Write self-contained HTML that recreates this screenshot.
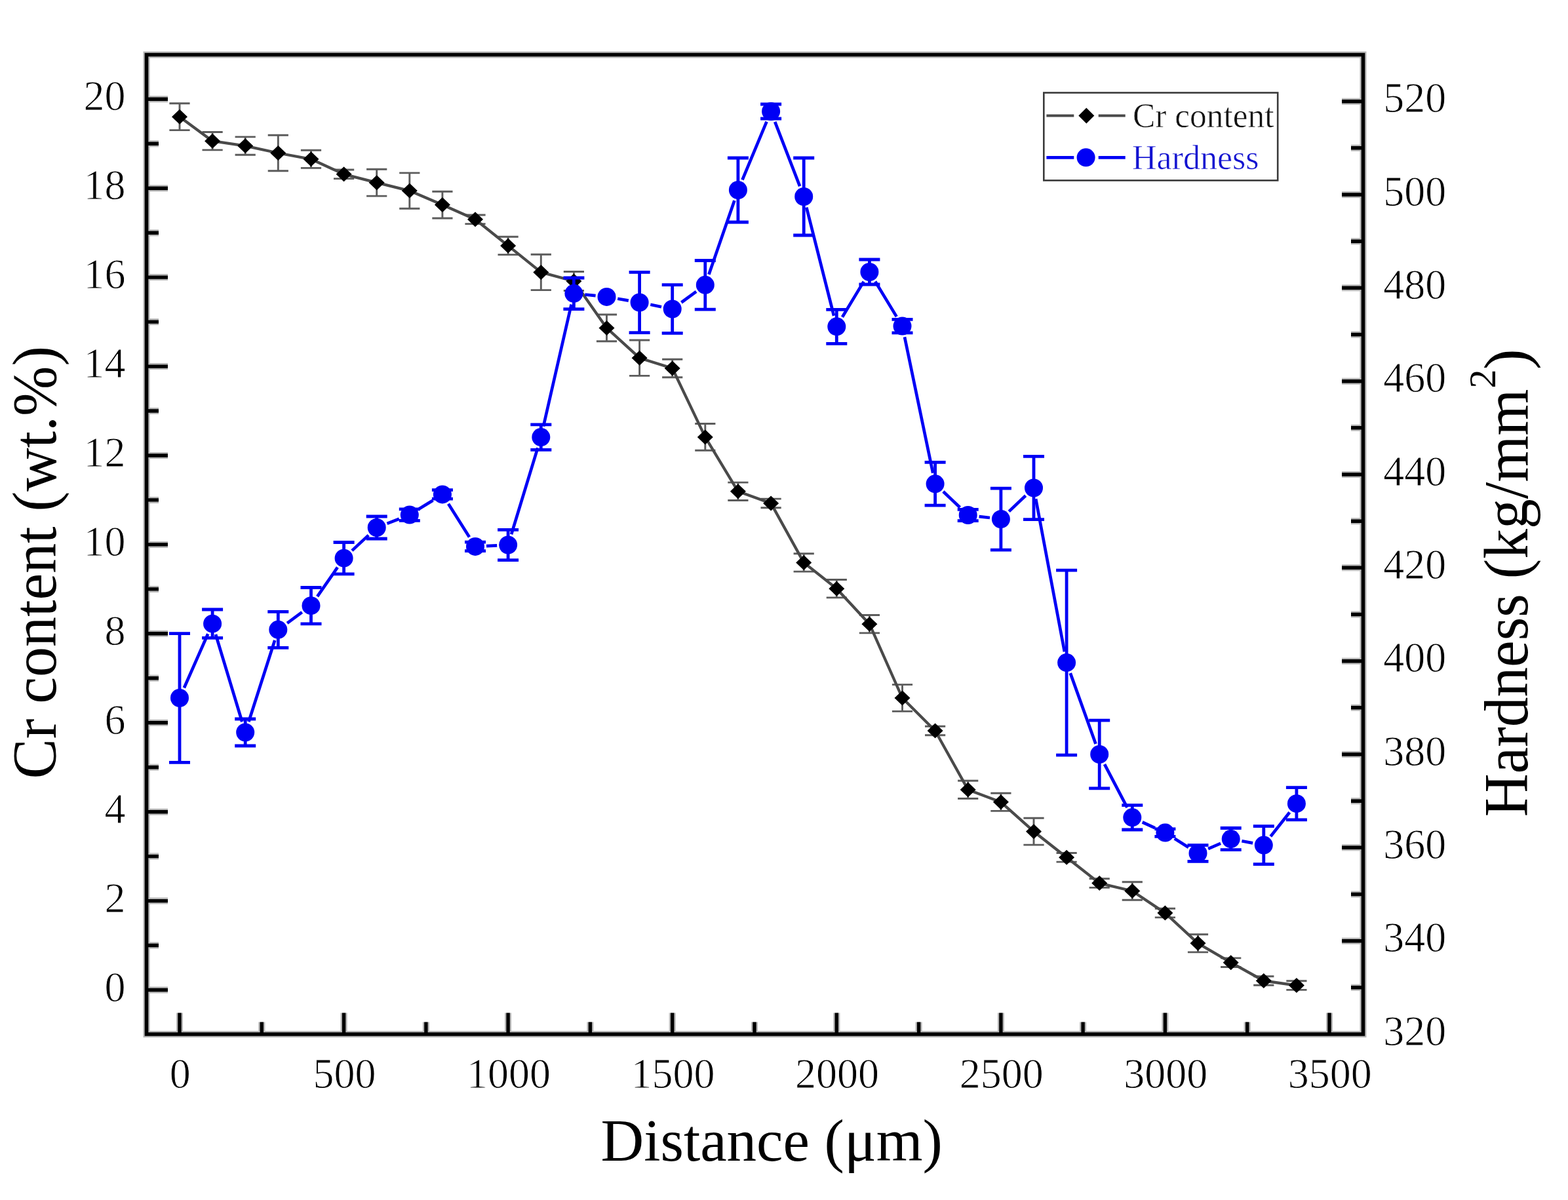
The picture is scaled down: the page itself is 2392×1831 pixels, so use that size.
<!DOCTYPE html>
<html><head><meta charset="utf-8"><title>Cr content and Hardness vs Distance</title>
<style>html,body{margin:0;padding:0;background:#fff;}body{width:2392px;height:1831px;overflow:hidden;}svg{display:block;}text{font-family:"Liberation Serif","Times New Roman",serif;}</style>
</head><body>
<svg width="2392" height="1831" viewBox="0 0 2392 1831">
<rect x="0" y="0" width="2392" height="1831" fill="#fff"/>
<path d="M223.5 1510.5H256.0M223.5 1442.5H242.0M223.5 1374.6H256.0M223.5 1306.6H242.0M223.5 1238.7H256.0M223.5 1170.7H242.0M223.5 1102.7H256.0M223.5 1034.8H242.0M223.5 966.8H256.0M223.5 898.9H242.0M223.5 830.9H256.0M223.5 762.9H242.0M223.5 695.0H256.0M223.5 627.0H242.0M223.5 559.1H256.0M223.5 491.1H242.0M223.5 423.1H256.0M223.5 355.2H242.0M223.5 287.2H256.0M223.5 219.3H242.0M223.5 151.3H256.0M2079.5 1506.8H2061.0M2079.5 1435.7H2047.0M2079.5 1364.5H2061.0M2079.5 1293.3H2047.0M2079.5 1222.2H2061.0M2079.5 1151.0H2047.0M2079.5 1079.8H2061.0M2079.5 1008.7H2047.0M2079.5 937.5H2061.0M2079.5 866.3H2047.0M2079.5 795.2H2061.0M2079.5 724.0H2047.0M2079.5 652.8H2061.0M2079.5 581.7H2047.0M2079.5 510.5H2061.0M2079.5 439.3H2047.0M2079.5 368.2H2061.0M2079.5 297.0H2047.0M2079.5 225.8H2061.0M2079.5 154.7H2047.0M274.0 1578.0V1545.5M399.3 1578.0V1559.5M524.6 1578.0V1545.5M649.9 1578.0V1559.5M775.1 1578.0V1545.5M900.4 1578.0V1559.5M1025.7 1578.0V1545.5M1151.0 1578.0V1559.5M1276.3 1578.0V1545.5M1401.6 1578.0V1559.5M1526.9 1578.0V1545.5M1652.1 1578.0V1559.5M1777.4 1578.0V1545.5M1902.7 1578.0V1559.5M2028.0 1578.0V1545.5M223.5 83.5H2079.5V1578.0H223.5Z" stroke="#b8b8b8" stroke-width="10.0" fill="none"/>
<path d="M223.5 1510.5H256.0M223.5 1442.5H242.0M223.5 1374.6H256.0M223.5 1306.6H242.0M223.5 1238.7H256.0M223.5 1170.7H242.0M223.5 1102.7H256.0M223.5 1034.8H242.0M223.5 966.8H256.0M223.5 898.9H242.0M223.5 830.9H256.0M223.5 762.9H242.0M223.5 695.0H256.0M223.5 627.0H242.0M223.5 559.1H256.0M223.5 491.1H242.0M223.5 423.1H256.0M223.5 355.2H242.0M223.5 287.2H256.0M223.5 219.3H242.0M223.5 151.3H256.0M2079.5 1506.8H2061.0M2079.5 1435.7H2047.0M2079.5 1364.5H2061.0M2079.5 1293.3H2047.0M2079.5 1222.2H2061.0M2079.5 1151.0H2047.0M2079.5 1079.8H2061.0M2079.5 1008.7H2047.0M2079.5 937.5H2061.0M2079.5 866.3H2047.0M2079.5 795.2H2061.0M2079.5 724.0H2047.0M2079.5 652.8H2061.0M2079.5 581.7H2047.0M2079.5 510.5H2061.0M2079.5 439.3H2047.0M2079.5 368.2H2061.0M2079.5 297.0H2047.0M2079.5 225.8H2061.0M2079.5 154.7H2047.0M274.0 1578.0V1545.5M399.3 1578.0V1559.5M524.6 1578.0V1545.5M649.9 1578.0V1559.5M775.1 1578.0V1545.5M900.4 1578.0V1559.5M1025.7 1578.0V1545.5M1151.0 1578.0V1559.5M1276.3 1578.0V1545.5M1401.6 1578.0V1559.5M1526.9 1578.0V1545.5M1652.1 1578.0V1559.5M1777.4 1578.0V1545.5M1902.7 1578.0V1559.5M2028.0 1578.0V1545.5" stroke="#000" stroke-width="5.4" fill="none"/>
<path d="M223.5 83.5H2079.5V1578.0H223.5Z" fill="none" stroke="#000" stroke-width="5.6" stroke-linejoin="miter"/>
<g font-size="64" fill="#000" stroke="#fff" stroke-width="0.90"><text transform="translate(191.5,1527.5) scale(1,1.035)" text-anchor="end">0</text><text transform="translate(191.5,1391.6) scale(1,1.035)" text-anchor="end">2</text><text transform="translate(191.5,1255.7) scale(1,1.035)" text-anchor="end">4</text><text transform="translate(191.5,1119.7) scale(1,1.035)" text-anchor="end">6</text><text transform="translate(191.5,983.8) scale(1,1.035)" text-anchor="end">8</text><text transform="translate(191.5,847.9) scale(1,1.035)" text-anchor="end">10</text><text transform="translate(191.5,712.0) scale(1,1.035)" text-anchor="end">12</text><text transform="translate(191.5,576.1) scale(1,1.035)" text-anchor="end">14</text><text transform="translate(191.5,440.1) scale(1,1.035)" text-anchor="end">16</text><text transform="translate(191.5,304.2) scale(1,1.035)" text-anchor="end">18</text><text transform="translate(191.5,168.3) scale(1,1.035)" text-anchor="end">20</text><text transform="translate(2110.3,1594.7) scale(1,1.035)">320</text><text transform="translate(2110.3,1452.4) scale(1,1.035)">340</text><text transform="translate(2110.3,1310.0) scale(1,1.035)">360</text><text transform="translate(2110.3,1167.7) scale(1,1.035)">380</text><text transform="translate(2110.3,1025.4) scale(1,1.035)">400</text><text transform="translate(2110.3,883.0) scale(1,1.035)">420</text><text transform="translate(2110.3,740.7) scale(1,1.035)">440</text><text transform="translate(2110.3,598.4) scale(1,1.035)">460</text><text transform="translate(2110.3,456.0) scale(1,1.035)">480</text><text transform="translate(2110.3,313.7) scale(1,1.035)">500</text><text transform="translate(2110.3,171.4) scale(1,1.035)">520</text><text transform="translate(274.8,1660.2) scale(1,1.035)" text-anchor="middle">0</text><text transform="translate(525.4,1660.2) scale(1,1.035)" text-anchor="middle">500</text><text transform="translate(775.9,1660.2) scale(1,1.035)" text-anchor="middle">1000</text><text transform="translate(1026.5,1660.2) scale(1,1.035)" text-anchor="middle">1500</text><text transform="translate(1277.1,1660.2) scale(1,1.035)" text-anchor="middle">2000</text><text transform="translate(1527.7,1660.2) scale(1,1.035)" text-anchor="middle">2500</text><text transform="translate(1778.2,1660.2) scale(1,1.035)" text-anchor="middle">3000</text><text transform="translate(2028.8,1660.2) scale(1,1.035)" text-anchor="middle">3500</text></g>
<text transform="translate(85.0,1188.5) rotate(-90)" font-size="95" fill="#000" textLength="660.5" lengthAdjust="spacingAndGlyphs">Cr content (wt.%)</text>
<text transform="translate(2329.5,1246.5) rotate(-90)" font-size="95" fill="#000" textLength="653.0" lengthAdjust="spacingAndGlyphs">Hardness (kg/mm</text>
<text transform="translate(2280.5,592.5) rotate(-90)" font-size="58" fill="#000">2</text>
<text transform="translate(2329.5,564) rotate(-90)" font-size="95" fill="#000">)</text>
<text x="916.5" y="1770.6" font-size="91" fill="#000">Distance (μm)</text>
<path d="M274.0 157.8V198.6M258.4 157.8H289.6M258.4 198.6H289.6M324.1 201.5V228.9M308.5 201.5H339.7M308.5 228.9H339.7M374.2 208.9V236.3M358.6 208.9H389.8M358.6 236.3H389.8M424.3 206.3V260.7M408.7 206.3H439.9M408.7 260.7H439.9M474.5 229.2V256.4M458.9 229.2H490.1M458.9 256.4H490.1M524.6 259.0V272.6M509.0 259.0H540.2M509.0 272.6H540.2M574.7 258.3V299.1M559.1 258.3H590.3M559.1 299.1H590.3M624.8 263.9V318.3M609.2 263.9H640.4M609.2 318.3H640.4M674.9 292.2V333.0M659.3 292.2H690.5M659.3 333.0H690.5M725.0 328.0V341.6M709.4 328.0H740.6M709.4 341.6H740.6M775.1 361.2V388.6M759.5 361.2H790.7M759.5 388.6H790.7M825.3 388.2V442.6M809.7 388.2H840.9M809.7 442.6H840.9M875.4 414.5V443.5M859.8 414.5H891.0M859.8 443.5H891.0M925.5 480.0V520.8M909.9 480.0H941.1M909.9 520.8H941.1M975.6 519.0V573.4M960.0 519.0H991.2M960.0 573.4H991.2M1025.7 548.3V575.7M1010.1 548.3H1041.3M1010.1 575.7H1041.3M1075.8 646.5V687.3M1060.2 646.5H1091.4M1060.2 687.3H1091.4M1125.9 736.1V763.5M1110.3 736.1H1141.5M1110.3 763.5H1141.5M1176.1 761.1V774.7M1160.5 761.1H1191.7M1160.5 774.7H1191.7M1226.2 844.7V872.1M1210.6 844.7H1241.8M1210.6 872.1H1241.8M1276.3 884.5V911.9M1260.7 884.5H1291.9M1260.7 911.9H1291.9M1326.4 938.5V965.9M1310.8 938.5H1342.0M1310.8 965.9H1342.0M1376.5 1044.6V1085.4M1360.9 1044.6H1392.1M1360.9 1085.4H1392.1M1426.6 1108.2V1121.8M1411.0 1108.2H1442.2M1411.0 1121.8H1442.2M1476.7 1191.3V1218.5M1461.1 1191.3H1492.3M1461.1 1218.5H1492.3M1526.9 1210.2V1237.4M1511.3 1210.2H1542.5M1511.3 1237.4H1542.5M1577.0 1248.3V1289.1M1561.4 1248.3H1592.6M1561.4 1289.1H1592.6M1627.1 1301.5V1315.1M1611.5 1301.5H1642.7M1611.5 1315.1H1642.7M1677.2 1340.8V1354.4M1661.6 1340.8H1692.8M1661.6 1354.4H1692.8M1727.3 1345.8V1373.2M1711.7 1345.8H1742.9M1711.7 1373.2H1742.9M1777.4 1386.3V1399.9M1761.8 1386.3H1793.0M1761.8 1399.9H1793.0M1827.5 1425.7V1452.9M1811.9 1425.7H1843.1M1811.9 1452.9H1843.1M1877.7 1461.9V1475.5M1862.1 1461.9H1893.3M1862.1 1475.5H1893.3M1927.8 1489.7V1503.3M1912.2 1489.7H1943.4M1912.2 1503.3H1943.4M1977.9 1496.8V1510.4M1962.3 1496.8H1993.5M1962.3 1510.4H1993.5" stroke="#5c5c5c" stroke-width="2.9" fill="none"/>
<polyline points="274.0,178.2 324.1,215.2 374.2,222.6 424.3,233.5 474.5,242.8 524.6,265.8 574.7,278.7 624.8,291.1 674.9,312.6 725.0,334.8 775.1,374.9 825.3,415.4 875.4,429.0 925.5,500.4 975.6,546.2 1025.7,562.0 1075.8,666.9 1125.9,749.8 1176.1,767.9 1226.2,858.4 1276.3,898.2 1326.4,952.2 1376.5,1065.0 1426.6,1115.0 1476.7,1204.9 1526.9,1223.8 1577.0,1268.7 1627.1,1308.3 1677.2,1347.6 1727.3,1359.5 1777.4,1393.1 1827.5,1439.3 1877.7,1468.7 1927.8,1496.5 1977.9,1503.6" stroke="#4a4a4a" stroke-width="4.3" fill="none" stroke-linejoin="round"/>
<path d="M274.0 166.7L286.0 178.2L274.0 189.7L262.0 178.2ZM324.1 203.7L336.1 215.2L324.1 226.7L312.1 215.2ZM374.2 211.1L386.2 222.6L374.2 234.1L362.2 222.6ZM424.3 222.0L436.3 233.5L424.3 245.0L412.3 233.5ZM474.5 231.3L486.5 242.8L474.5 254.3L462.5 242.8ZM524.6 254.3L536.6 265.8L524.6 277.3L512.6 265.8ZM574.7 267.2L586.7 278.7L574.7 290.2L562.7 278.7ZM624.8 279.6L636.8 291.1L624.8 302.6L612.8 291.1ZM674.9 301.1L686.9 312.6L674.9 324.1L662.9 312.6ZM725.0 323.3L737.0 334.8L725.0 346.3L713.0 334.8ZM775.1 363.4L787.1 374.9L775.1 386.4L763.1 374.9ZM825.3 403.9L837.3 415.4L825.3 426.9L813.3 415.4ZM875.4 417.5L887.4 429.0L875.4 440.5L863.4 429.0ZM925.5 488.9L937.5 500.4L925.5 511.9L913.5 500.4ZM975.6 534.7L987.6 546.2L975.6 557.7L963.6 546.2ZM1025.7 550.5L1037.7 562.0L1025.7 573.5L1013.7 562.0ZM1075.8 655.4L1087.8 666.9L1075.8 678.4L1063.8 666.9ZM1125.9 738.3L1137.9 749.8L1125.9 761.3L1113.9 749.8ZM1176.1 756.4L1188.1 767.9L1176.1 779.4L1164.1 767.9ZM1226.2 846.9L1238.2 858.4L1226.2 869.9L1214.2 858.4ZM1276.3 886.7L1288.3 898.2L1276.3 909.7L1264.3 898.2ZM1326.4 940.7L1338.4 952.2L1326.4 963.7L1314.4 952.2ZM1376.5 1053.5L1388.5 1065.0L1376.5 1076.5L1364.5 1065.0ZM1426.6 1103.5L1438.6 1115.0L1426.6 1126.5L1414.6 1115.0ZM1476.7 1193.4L1488.7 1204.9L1476.7 1216.4L1464.7 1204.9ZM1526.9 1212.3L1538.9 1223.8L1526.9 1235.3L1514.9 1223.8ZM1577.0 1257.2L1589.0 1268.7L1577.0 1280.2L1565.0 1268.7ZM1627.1 1296.8L1639.1 1308.3L1627.1 1319.8L1615.1 1308.3ZM1677.2 1336.1L1689.2 1347.6L1677.2 1359.1L1665.2 1347.6ZM1727.3 1348.0L1739.3 1359.5L1727.3 1371.0L1715.3 1359.5ZM1777.4 1381.6L1789.4 1393.1L1777.4 1404.6L1765.4 1393.1ZM1827.5 1427.8L1839.5 1439.3L1827.5 1450.8L1815.5 1439.3ZM1877.7 1457.2L1889.7 1468.7L1877.7 1480.2L1865.7 1468.7ZM1927.8 1485.0L1939.8 1496.5L1927.8 1508.0L1915.8 1496.5ZM1977.9 1492.1L1989.9 1503.6L1977.9 1515.1L1965.9 1503.6Z" fill="#000"/>
<path d="M274.0 966.7V1163.3M258.0 966.7H290.0M258.0 1163.3H290.0M324.1 930.0V973.4M308.1 930.0H340.1M308.1 973.4H340.1M374.2 1097.0V1138.0M358.2 1097.0H390.2M358.2 1138.0H390.2M424.3 933.3V988.3M408.3 933.3H440.3M408.3 988.3H440.3M474.5 896.5V951.9M458.5 896.5H490.5M458.5 951.9H490.5M524.6 827.5V875.9M508.6 827.5H540.6M508.6 875.9H540.6M574.7 788.0V822.0M558.7 788.0H590.7M558.7 822.0H590.7M624.8 776.9V794.3M608.8 776.9H640.8M608.8 794.3H640.8M674.9 747.6V761.2M658.9 747.6H690.9M658.9 761.2H690.9M725.0 827.1V840.7M709.0 827.1H741.0M709.0 840.7H741.0M775.1 808.3V854.7M759.1 808.3H791.1M759.1 854.7H791.1M825.3 647.8V686.4M809.3 647.8H841.3M809.3 686.4H841.3M875.4 424.0V471.6M859.4 424.0H891.4M859.4 471.6H891.4M975.6 415.3V507.7M959.6 415.3H991.6M959.6 507.7H991.6M1025.7 434.7V508.3M1009.7 434.7H1041.7M1009.7 508.3H1041.7M1075.8 397.5V472.1M1059.8 397.5H1091.8M1059.8 472.1H1091.8M1125.9 241.0V339.0M1109.9 241.0H1141.9M1109.9 339.0H1141.9M1176.1 159.0V181.0M1160.1 159.0H1192.1M1160.1 181.0H1192.1M1226.2 241.0V359.0M1210.2 241.0H1242.2M1210.2 359.0H1242.2M1276.3 472.3V524.3M1260.3 472.3H1292.3M1260.3 524.3H1292.3M1326.4 396.0V434.0M1310.4 396.0H1342.4M1310.4 434.0H1342.4M1376.5 487.3V507.9M1360.5 487.3H1392.5M1360.5 507.9H1392.5M1426.6 705.4V771.2M1410.6 705.4H1442.6M1410.6 771.2H1442.6M1476.7 777.4V794.6M1460.7 777.4H1492.7M1460.7 794.6H1492.7M1526.9 745.1V839.1M1510.9 745.1H1542.9M1510.9 839.1H1542.9M1577.0 696.3V792.7M1561.0 696.3H1593.0M1561.0 792.7H1593.0M1627.1 870.1V1152.1M1611.1 870.1H1643.1M1611.1 1152.1H1643.1M1677.2 1099.2V1202.8M1661.2 1099.2H1693.2M1661.2 1202.8H1693.2M1727.3 1228.6V1266.0M1711.3 1228.6H1743.3M1711.3 1266.0H1743.3M1777.4 1264.8V1276.4M1761.4 1264.8H1793.4M1761.4 1276.4H1793.4M1827.5 1289.6V1314.4M1811.5 1289.6H1843.5M1811.5 1314.4H1843.5M1877.7 1263.5V1296.7M1861.7 1263.5H1893.7M1861.7 1296.7H1893.7M1927.8 1260.6V1318.6M1911.8 1260.6H1943.8M1911.8 1318.6H1943.8M1977.9 1201.6V1250.8M1961.9 1201.6H1993.9M1961.9 1250.8H1993.9" stroke="#0000f5" stroke-width="4.8" fill="none"/>
<path d="M280.9 1049.5L317.2 967.2M329.0 968.0L369.3 1101.2M379.4 1101.3L419.2 977.0M438.1 950.8L460.7 934.2M484.1 910.2L514.9 865.7M537.0 840.1L562.2 816.6M590.5 798.9L608.9 791.7M639.2 776.6L660.5 763.4M684.0 768.8L716.0 819.5M742.0 833.1L758.2 832.3M780.1 815.2L820.3 683.4M829.0 650.5L871.6 464.4M892.3 449.5L908.6 451.2M942.2 455.8L958.8 458.6M992.3 464.8L1009.0 468.2M1039.4 461.5L1062.1 444.8M1081.4 418.7L1120.4 306.1M1132.5 274.3L1169.5 185.7M1182.2 185.9L1220.1 284.1M1230.3 316.5L1272.1 481.8M1285.0 483.7L1317.6 429.6M1335.2 429.5L1367.7 483.1M1380.0 514.2L1423.2 721.7M1438.9 750.0L1464.4 774.3M1493.6 788.1L1510.0 790.0M1539.2 780.4L1564.6 756.2M1580.1 761.2L1623.9 994.4M1632.8 1027.1L1671.5 1135.0M1685.0 1166.1L1719.5 1232.2M1742.7 1254.5L1762.0 1263.4M1791.8 1279.6L1813.1 1293.0M1843.1 1295.2L1862.1 1286.9M1894.4 1283.3L1911.1 1286.4M1938.3 1276.3L1967.3 1239.5" stroke="#0000f5" stroke-width="4.7" fill="none"/>
<g fill="#0000f5"><circle cx="274.0" cy="1065.0" r="14.0"/><circle cx="324.1" cy="951.7" r="14.0"/><circle cx="374.2" cy="1117.5" r="14.0"/><circle cx="424.3" cy="960.8" r="14.0"/><circle cx="474.5" cy="924.2" r="14.0"/><circle cx="524.6" cy="851.7" r="14.0"/><circle cx="574.7" cy="805.0" r="14.0"/><circle cx="624.8" cy="785.6" r="14.0"/><circle cx="674.9" cy="754.4" r="14.0"/><circle cx="725.0" cy="833.9" r="14.0"/><circle cx="775.1" cy="831.5" r="14.0"/><circle cx="825.3" cy="667.1" r="14.0"/><circle cx="875.4" cy="447.8" r="14.0"/><circle cx="925.5" cy="452.9" r="14.0"/><circle cx="975.6" cy="461.5" r="14.0"/><circle cx="1025.7" cy="471.5" r="14.0"/><circle cx="1075.8" cy="434.8" r="14.0"/><circle cx="1125.9" cy="290.0" r="14.0"/><circle cx="1176.1" cy="170.0" r="14.0"/><circle cx="1226.2" cy="300.0" r="14.0"/><circle cx="1276.3" cy="498.3" r="14.0"/><circle cx="1326.4" cy="415.0" r="14.0"/><circle cx="1376.5" cy="497.6" r="14.0"/><circle cx="1426.6" cy="738.3" r="14.0"/><circle cx="1476.7" cy="786.0" r="14.0"/><circle cx="1526.9" cy="792.1" r="14.0"/><circle cx="1577.0" cy="744.5" r="14.0"/><circle cx="1627.1" cy="1011.1" r="14.0"/><circle cx="1677.2" cy="1151.0" r="14.0"/><circle cx="1727.3" cy="1247.3" r="14.0"/><circle cx="1777.4" cy="1270.6" r="14.0"/><circle cx="1827.5" cy="1302.0" r="14.0"/><circle cx="1877.7" cy="1280.1" r="14.0"/><circle cx="1927.8" cy="1289.6" r="14.0"/><circle cx="1977.9" cy="1226.2" r="14.0"/></g>
<rect x="1592.3" y="141.5" width="356.9" height="133.8" fill="#fff" stroke="#3a3a3a" stroke-width="2.6"/>
<path d="M1596.4 176.5H1638.3M1675.7 176.5H1716.7" stroke="#4a4a4a" stroke-width="4" fill="none"/>
<path d="M1657.3 164.5L1669.3 176.5L1657.3 188.5L1645.3 176.5Z" fill="#000"/>
<path d="M1596.4 240.3H1638.3M1675.7 240.3H1716.7" stroke="#0000f5" stroke-width="4.8" fill="none"/>
<circle cx="1656.6" cy="240.3" r="14" fill="#0000f5"/>
<text x="1728" y="193.8" font-size="53.5" fill="#111" stroke="#fff" stroke-width="0.6" textLength="215.5" lengthAdjust="spacingAndGlyphs">Cr content</text>
<text x="1727" y="257.6" font-size="53.5" fill="#1212d0" stroke="#fff" stroke-width="0.6" textLength="193.5" lengthAdjust="spacingAndGlyphs">Hardness</text>
</svg>
</body></html>
